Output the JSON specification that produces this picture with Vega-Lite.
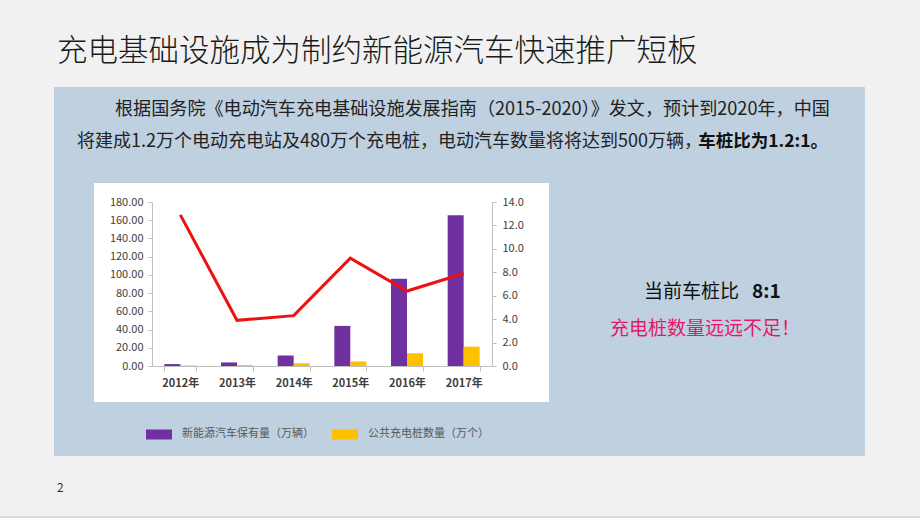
{
  "$schema": "https://vega.github.io/schema/vega-lite/v6.json",
  "width": 340,
  "height": 164,
  "autosize": {"type": "none"},
  "padding": {"left": 152, "top": 202, "right": 428, "bottom": 152},
  "background": "#f1f1f1",
  "config": {
    "view": {"stroke": null},
    "font": "Noto Sans CJK SC",
    "axis": {"labelFont": "Noto Sans CJK SC", "labelColor": "#404040", "labelFontSize": 11, "domainColor": "#bfbfbf", "tickColor": "#bfbfbf", "grid": false}
  },
  "datasets": {
    "bars": [
      {"year": "2012年", "series": "新能源汽车保有量（万辆）", "value": 2.1},
      {"year": "2013年", "series": "新能源汽车保有量（万辆）", "value": 3.9},
      {"year": "2014年", "series": "新能源汽车保有量（万辆）", "value": 11.4},
      {"year": "2015年", "series": "新能源汽车保有量（万辆）", "value": 44.0},
      {"year": "2016年", "series": "新能源汽车保有量（万辆）", "value": 95.7},
      {"year": "2017年", "series": "新能源汽车保有量（万辆）", "value": 165.5},
      {"year": "2012年", "series": "公共充电桩数量（万个）", "value": 0.6},
      {"year": "2013年", "series": "公共充电桩数量（万个）", "value": 1.0},
      {"year": "2014年", "series": "公共充电桩数量（万个）", "value": 3.0},
      {"year": "2015年", "series": "公共充电桩数量（万个）", "value": 5.0},
      {"year": "2016年", "series": "公共充电桩数量（万个）", "value": 14.0},
      {"year": "2017年", "series": "公共充电桩数量（万个）", "value": 21.2}
    ],
    "ratio": [
      {"year": "2012年", "ratio": 12.9},
      {"year": "2013年", "ratio": 3.9},
      {"year": "2014年", "ratio": 4.3},
      {"year": "2015年", "ratio": 9.2},
      {"year": "2016年", "ratio": 6.4},
      {"year": "2017年", "ratio": 7.9}
    ]
  },
  "layer": [
    {
      "data": {"values": [{}]},
      "mark": {"type": "rect", "color": "#bfd0e0"},
      "encoding": {"x": {"value": -98}, "x2": {"value": 713}, "y": {"value": -115}, "y2": {"value": 254}}
    },
    {
      "data": {"values": [{}]},
      "mark": {"type": "rect", "color": "#ffffff"},
      "encoding": {"x": {"value": -58}, "x2": {"value": 397}, "y": {"value": -19}, "y2": {"value": 200}}
    },
    {
      "data": {"values": [{}]},
      "mark": {"type": "rule", "color": "#c8c8c8", "strokeWidth": 1},
      "encoding": {"x": {"value": -152}, "x2": {"value": 768}, "y": {"value": 315}}
    },
    {
      "data": {"name": "bars"},
      "mark": {"type": "bar"},
      "encoding": {
        "x": {
          "field": "year", "type": "nominal", "sort": null,
          "scale": {"paddingInner": 0.435, "paddingOuter": 0.2175},
          "axis": {"title": null, "zindex": 2, "labelAngle": 0, "tickBand": "extent", "tickSize": 5, "labelPadding": 6, "labelFontWeight": "bold", "labelColor": "#404040", "domainColor": "#bfbfbf"}
        },
        "xOffset": {"field": "series", "type": "nominal", "sort": ["新能源汽车保有量（万辆）", "公共充电桩数量（万个）"]},
        "y": {
          "field": "value", "type": "quantitative",
          "scale": {"domain": [0, 180], "nice": false},
          "axis": {"title": null, "zindex": 2, "orient": "left", "values": [0, 20, 40, 60, 80, 100, 120, 140, 160, 180], "format": ".2f", "tickSize": 4, "labelPadding": 5}
        },
        "color": {
          "field": "series", "type": "nominal",
          "scale": {"domain": ["新能源汽车保有量（万辆）", "公共充电桩数量（万个）"], "range": ["#7030a0", "#ffc000"]},
          "legend": {
            "orient": "none", "legendX": -6, "legendY": 219, "direction": "horizontal", "title": null,
            "symbolType": "M-1,-0.385H1V0.385H-1Z", "symbolSize": 676, "symbolStrokeWidth": 0,
            "labelFontSize": 11, "labelColor": "#595959", "labelOffset": 10, "columnPadding": 18, "padding": 0
          }
        }
      }
    },
    {
      "data": {"name": "ratio"},
      "mark": {"type": "line", "color": "#ee1111", "strokeWidth": 3},
      "encoding": {
        "x": {"field": "year", "type": "nominal", "sort": null},
        "y": {
          "field": "ratio", "type": "quantitative",
          "scale": {"domain": [0, 14], "nice": false},
          "axis": {"title": null, "zindex": 2, "orient": "right", "values": [0, 2, 4, 6, 8, 10, 12, 14], "format": ".1f", "tickSize": 4, "labelPadding": 6}
        }
      }
    },
    {
      "data": {"values": [{"t": "充电基础设施成为制约新能源汽车快速推广短板"}]},
      "mark": {"type": "text", "align": "left", "baseline": "middle", "fontSize": 30.5, "fontWeight": 300, "color": "#1a1a1a"},
      "encoding": {"text": {"field": "t"}, "x": {"value": -95}, "y": {"value": -150}}
    },
    {
      "data": {"values": [{"t": "根据国务院《电动汽车充电基础设施发展指南（2015-2020）》发文，预计到2020年，中国"}]},
      "mark": {"type": "text", "align": "left", "baseline": "middle", "fontSize": 18.1, "color": "#222222"},
      "encoding": {"text": {"field": "t"}, "x": {"value": -37}, "y": {"value": -92}}
    },
    {
      "data": {"values": [{"t": "将建成1.2万个电动充电站及480万个充电桩，电动汽车数量将将达到500万辆，"}]},
      "mark": {"type": "text", "align": "left", "baseline": "middle", "fontSize": 18, "color": "#222222"},
      "encoding": {"text": {"field": "t"}, "x": {"value": -75}, "y": {"value": -60}}
    },
    {
      "data": {"values": [{"t": "车桩比为1.2:1。"}]},
      "mark": {"type": "text", "align": "right", "baseline": "middle", "fontSize": 17.5, "fontWeight": "bold", "color": "#111111"},
      "encoding": {"text": {"field": "t"}, "x": {"value": 676}, "y": {"value": -60}}
    },
    {
      "data": {"values": [{"t": "当前车桩比"}]},
      "mark": {"type": "text", "align": "left", "baseline": "middle", "fontSize": 19, "color": "#111111"},
      "encoding": {"text": {"field": "t"}, "x": {"value": 492}, "y": {"value": 90}}
    },
    {
      "data": {"values": [{"t": "8:1"}]},
      "mark": {"type": "text", "align": "left", "baseline": "middle", "fontSize": 19, "fontWeight": "bold", "color": "#111111"},
      "encoding": {"text": {"field": "t"}, "x": {"value": 600}, "y": {"value": 90}}
    },
    {
      "data": {"values": [{"t": "充电桩数量远远不足！"}]},
      "mark": {"type": "text", "align": "left", "baseline": "middle", "fontSize": 19, "color": "#e2186a"},
      "encoding": {"text": {"field": "t"}, "x": {"value": 458}, "y": {"value": 127}}
    },
    {
      "data": {"values": [{"t": "2"}]},
      "mark": {"type": "text", "align": "left", "baseline": "middle", "fontSize": 12, "color": "#333333"},
      "encoding": {"text": {"field": "t"}, "x": {"value": -95}, "y": {"value": 286}}
    }
  ],
  "resolve": {"scale": {"y": "independent"}}
}
